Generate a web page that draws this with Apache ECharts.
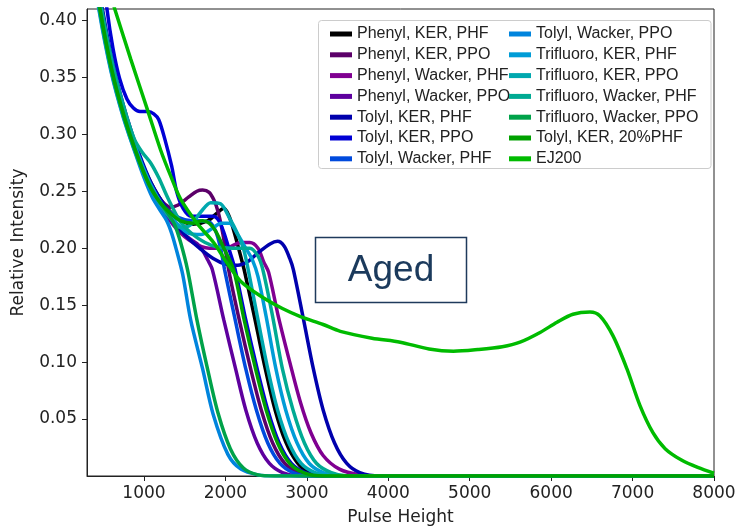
<!DOCTYPE html>
<html>
<head>
<meta charset="utf-8">
<script src="https://cdn.jsdelivr.net/npm/echarts@6.0.0/dist/echarts.min.js"></script>
<style>
  html, body { margin: 0; padding: 0; background: #fff; }
  #chart { width: 744px; height: 531px; }
</style>
</head>
<body>
<div id="chart"></div>
<script>
// series names (legend order)
const names = [
  'Phenyl, KER, PHF', 'Phenyl, KER, PPO', 'Phenyl, Wacker, PHF', 'Phenyl, Wacker, PPO',
  'Tolyl, KER, PHF', 'Tolyl, KER, PPO', 'Tolyl, Wacker, PHF', 'Tolyl, Wacker, PPO',
  'Trifluoro, KER, PHF', 'Trifluoro, KER, PPO', 'Trifluoro, Wacker, PHF', 'Trifluoro, Wacker, PPO',
  'Tolyl, KER, 20%PHF', 'EJ200'
]
const colors = [
  '#000000', '#5c0069', '#800091', '#5e009e', '#0000ad', '#0000d5', '#004add',
  '#0084dd', '#009cd7', '#00a8af', '#00aa93', '#00a249', '#00a100', '#00bb00'
]

const xTicks = [1000, 2000, 3000, 4000, 5000, 6000, 7000, 8000]
const yTicks = [0.05, 0.10, 0.15, 0.20, 0.25, 0.30, 0.35, 0.40]

// [pulse height, relative intensity]
const phenylKerPhf = [[380,0.46],[480,0.41],[630,0.355],[780,0.315],[930,0.283],[1080,0.258],[1250,0.238],[1420,0.226],[1600,0.221],[1780,0.224],[1900,0.231],[1980,0.235],[2040,0.229],[2100,0.216],[2180,0.195],[2240,0.178],[2370,0.135],[2490,0.094],[2610,0.058],[2740,0.03],[2880,0.012],[3030,0.003],[3250,0],[8000,0]]
const phenylKerPpo = [[370,0.46],[470,0.41],[620,0.355],[770,0.315],[920,0.283],[1070,0.258],[1200,0.243],[1320,0.236],[1420,0.238],[1550,0.245],[1650,0.25],[1720,0.251],[1800,0.249],[1860,0.242],[1910,0.232],[1970,0.212],[2040,0.181],[2170,0.137],[2310,0.094],[2440,0.058],[2580,0.029],[2730,0.011],[2900,0.003],[3100,0],[8000,0]]
const phenylWackerPhf = [[360,0.46],[460,0.41],[610,0.355],[760,0.315],[910,0.283],[1060,0.256],[1200,0.237],[1400,0.217],[1600,0.205],[1800,0.2],[2000,0.2],[2190,0.205],[2300,0.205],[2400,0.2],[2470,0.188],[2530,0.179],[2650,0.14],[2790,0.1],[2920,0.065],[3050,0.038],[3200,0.018],[3400,0.006],[3650,0.001],[3900,0],[8000,0]]
const phenylWackerPpo = [[365,0.46],[465,0.41],[615,0.355],[765,0.315],[915,0.283],[1065,0.256],[1200,0.238],[1400,0.218],[1550,0.209],[1650,0.204],[1720,0.198],[1780,0.19],[1840,0.181],[1980,0.137],[2125,0.094],[2250,0.058],[2390,0.029],[2540,0.011],[2700,0.003],[2900,0],[8000,0]]
const tolylKerPhf = [[390,0.46],[490,0.41],[640,0.355],[790,0.315],[940,0.283],[1090,0.257],[1300,0.232],[1500,0.212],[1700,0.199],[1850,0.191],[2000,0.186],[2150,0.185],[2270,0.188],[2400,0.196],[2553,0.204],[2640,0.206],[2720,0.202],[2790,0.191],[2835,0.181],[2960,0.137],[3080,0.094],[3200,0.058],[3340,0.029],[3490,0.011],[3650,0.003],[3900,0],[8000,0]]
const tolylKerPpo = [[450,0.47],[545,0.41],[620,0.375],[700,0.349],[790,0.331],[870,0.323],[950,0.32],[1050,0.32],[1120,0.318],[1180,0.313],[1255,0.296],[1340,0.272],[1400,0.25],[1480,0.235],[1580,0.228],[1700,0.228],[1850,0.228],[1920,0.224],[1980,0.214],[2050,0.198],[2120,0.181],[2250,0.137],[2390,0.094],[2520,0.058],[2660,0.029],[2810,0.011],[2980,0.003],[3200,0],[8000,0]]
const tolylWackerPhf = [[355,0.46],[455,0.41],[605,0.355],[755,0.315],[905,0.283],[1055,0.256],[1200,0.24],[1350,0.23],[1500,0.225],[1650,0.224],[1800,0.223],[1880,0.215],[1940,0.2],[1990,0.181],[2120,0.137],[2250,0.094],[2380,0.058],[2520,0.029],[2670,0.011],[2830,0.003],[3050,0],[8000,0]]
const tolylWackerPpo = [[345,0.46],[445,0.41],[595,0.355],[745,0.315],[895,0.283],[1000,0.262],[1100,0.245],[1200,0.233],[1280,0.224],[1340,0.213],[1400,0.198],[1475,0.177],[1573,0.137],[1720,0.094],[1850,0.054],[2030,0.019],[2190,0.006],[2400,0.001],[2600,0],[8000,0]]
const trifluoroKerPhf = [[375,0.46],[475,0.41],[625,0.355],[775,0.315],[925,0.283],[1075,0.257],[1250,0.235],[1400,0.222],[1550,0.213],[1700,0.212],[1850,0.218],[1950,0.222],[2050,0.222],[2150,0.212],[2250,0.2],[2330,0.19],[2400,0.175],[2500,0.14],[2620,0.094],[2740,0.058],[2880,0.029],[3030,0.011],[3200,0.003],[3400,0],[8000,0]]
const trifluoroKerPpo = [[350,0.46],[450,0.41],[600,0.355],[750,0.315],[900,0.283],[1050,0.257],[1200,0.238],[1350,0.224],[1450,0.218],[1580,0.221],[1700,0.232],[1820,0.24],[1940,0.239],[2060,0.225],[2140,0.214],[2220,0.2],[2280,0.181],[2400,0.137],[2520,0.094],[2640,0.058],[2780,0.029],[2930,0.011],[3100,0.003],[3300,0],[8000,0]]
const trifluoroWackerPhf = [[380,0.46],[480,0.41],[620,0.36],[760,0.322],[880,0.296],[980,0.284],[1080,0.275],[1180,0.262],[1300,0.243],[1450,0.223],[1600,0.212],[1750,0.205],[1900,0.201],[2100,0.2],[2300,0.2],[2400,0.193],[2460,0.181],[2580,0.14],[2700,0.094],[2830,0.058],[2970,0.029],[3120,0.011],[3300,0.003],[3500,0],[8000,0]]
const trifluoroWackerPpo = [[355,0.46],[455,0.41],[605,0.355],[755,0.315],[905,0.283],[1000,0.266],[1150,0.245],[1280,0.232],[1380,0.22],[1450,0.205],[1535,0.181],[1650,0.137],[1780,0.094],[1910,0.055],[2060,0.024],[2220,0.007],[2400,0.001],[2600,0],[8000,0]]
const tolylKer20Phf = [[360,0.46],[460,0.41],[610,0.355],[760,0.315],[910,0.283],[1060,0.256],[1200,0.24],[1320,0.231],[1450,0.224],[1600,0.222],[1720,0.224],[1800,0.222],[1880,0.215],[1980,0.2],[2100,0.181],[2230,0.137],[2370,0.094],[2500,0.058],[2640,0.029],[2790,0.011],[2960,0.003],[3200,0],[8000,0]]
const ej200 = [[450,0.455],[641,0.41],[837,0.366],[1045,0.321],[1205,0.286],[1330,0.263],[1450,0.243],[1650,0.222],[1855,0.205],[2020,0.187],[2186,0.171],[2431,0.158],[2700,0.147],[2921,0.14],[3200,0.133],[3411,0.127],[3800,0.121],[4147,0.1175],[4500,0.1115],[4800,0.1095],[5100,0.111],[5400,0.1135],[5618,0.1175],[5864,0.126],[6072,0.135],[6268,0.142],[6477,0.144],[6600,0.1405],[6760,0.123],[6931,0.094],[7090,0.062],[7250,0.038],[7400,0.024],[7600,0.014],[7800,0.0075],[8000,0.0024]]

const seriesValues = [
  phenylKerPhf, phenylKerPpo, phenylWackerPhf, phenylWackerPpo,
  tolylKerPhf, tolylKerPpo, tolylWackerPhf, tolylWackerPpo,
  trifluoroKerPhf, trifluoroKerPpo, trifluoroWackerPhf, trifluoroWackerPpo,
  tolylKer20Phf, ej200
]

const chart = echarts.init(document.getElementById('chart'))

const axisFont = { fontFamily: 'DejaVu Sans', fontSize: 17, color: '#222' }
const legendBase = {
  orient: 'vertical',
  top: 26,
  padding: 0,
  itemGap: 4.8,
  itemWidth: 22,
  itemHeight: 5,
  icon: 'rect',
  selectedMode: false,
  textStyle: { fontFamily: 'Liberation Sans', fontSize: 16, color: '#222', lineHeight: 16 }
}

const option = {
  animation: false,
  color: colors,
  grid: {
    left: 87, right: 30, top: 9, bottom: 53,
    show: true, borderColor: '#222', borderWidth: 1
  },
  legend: [
    Object.assign({}, legendBase, { left: 330, data: names.slice(0, 7) }),
    Object.assign({}, legendBase, { left: 509, data: names.slice(7) })
  ],
  xAxis: {
    type: 'value',
    min: 300,
    max: 8000,
    name: 'Pulse Height',
    nameLocation: 'middle',
    nameGap: 33,
    nameTextStyle: axisFont,
    axisLine: { onZero: false, lineStyle: { color: '#222', width: 1 } },
    axisTick: { show: true, length: 5, customValues: xTicks, lineStyle: { color: '#222' } },
    axisLabel: Object.assign({ customValues: xTicks, margin: 9, formatter: v => String(v) }, axisFont),
    splitLine: { show: false }
  },
  yAxis: {
    type: 'value',
    min: 0,
    max: 0.41,
    name: 'Relative Intensity',
    nameLocation: 'middle',
    nameGap: 60,
    nameRotate: 90,
    nameTextStyle: axisFont,
    axisLine: { show: true, onZero: false, lineStyle: { color: '#222', width: 1 } },
    axisTick: { show: true, length: 5, customValues: yTicks, lineStyle: { color: '#222' } },
    axisLabel: Object.assign({ customValues: yTicks, margin: 10, formatter: v => v.toFixed(2) }, axisFont),
    splitLine: { show: false }
  },
  graphic: [
    {
      type: 'rect', z: 1,
      shape: { x: 318.5, y: 20.5, width: 392.5, height: 148, r: 3 },
      style: { fill: '#fff', stroke: '#cccccc', lineWidth: 1 }
    },
    {
      type: 'rect', z: 10,
      shape: { x: 315.5, y: 237.5, width: 151, height: 65 },
      style: { fill: '#fff', stroke: '#1f3a5c', lineWidth: 1.5 }
    },
    {
      type: 'text', z: 11,
      x: 391, y: 271,
      style: {
        text: 'Aged', fill: '#1b3a5c',
        font: '37px "Liberation Sans", Arial, sans-serif',
        align: 'center', verticalAlign: 'middle'
      }
    }
  ],
  series: seriesValues.map((d, i) => ({
    name: names[i],
    type: 'line',
    data: d,
    smooth: 0.3,
    symbol: 'none',
    clip: true,
    lineStyle: { width: 3.5, color: colors[i] },
    itemStyle: { color: colors[i] }
  }))
}

chart.setOption(option)
</script>
</body>
</html>
